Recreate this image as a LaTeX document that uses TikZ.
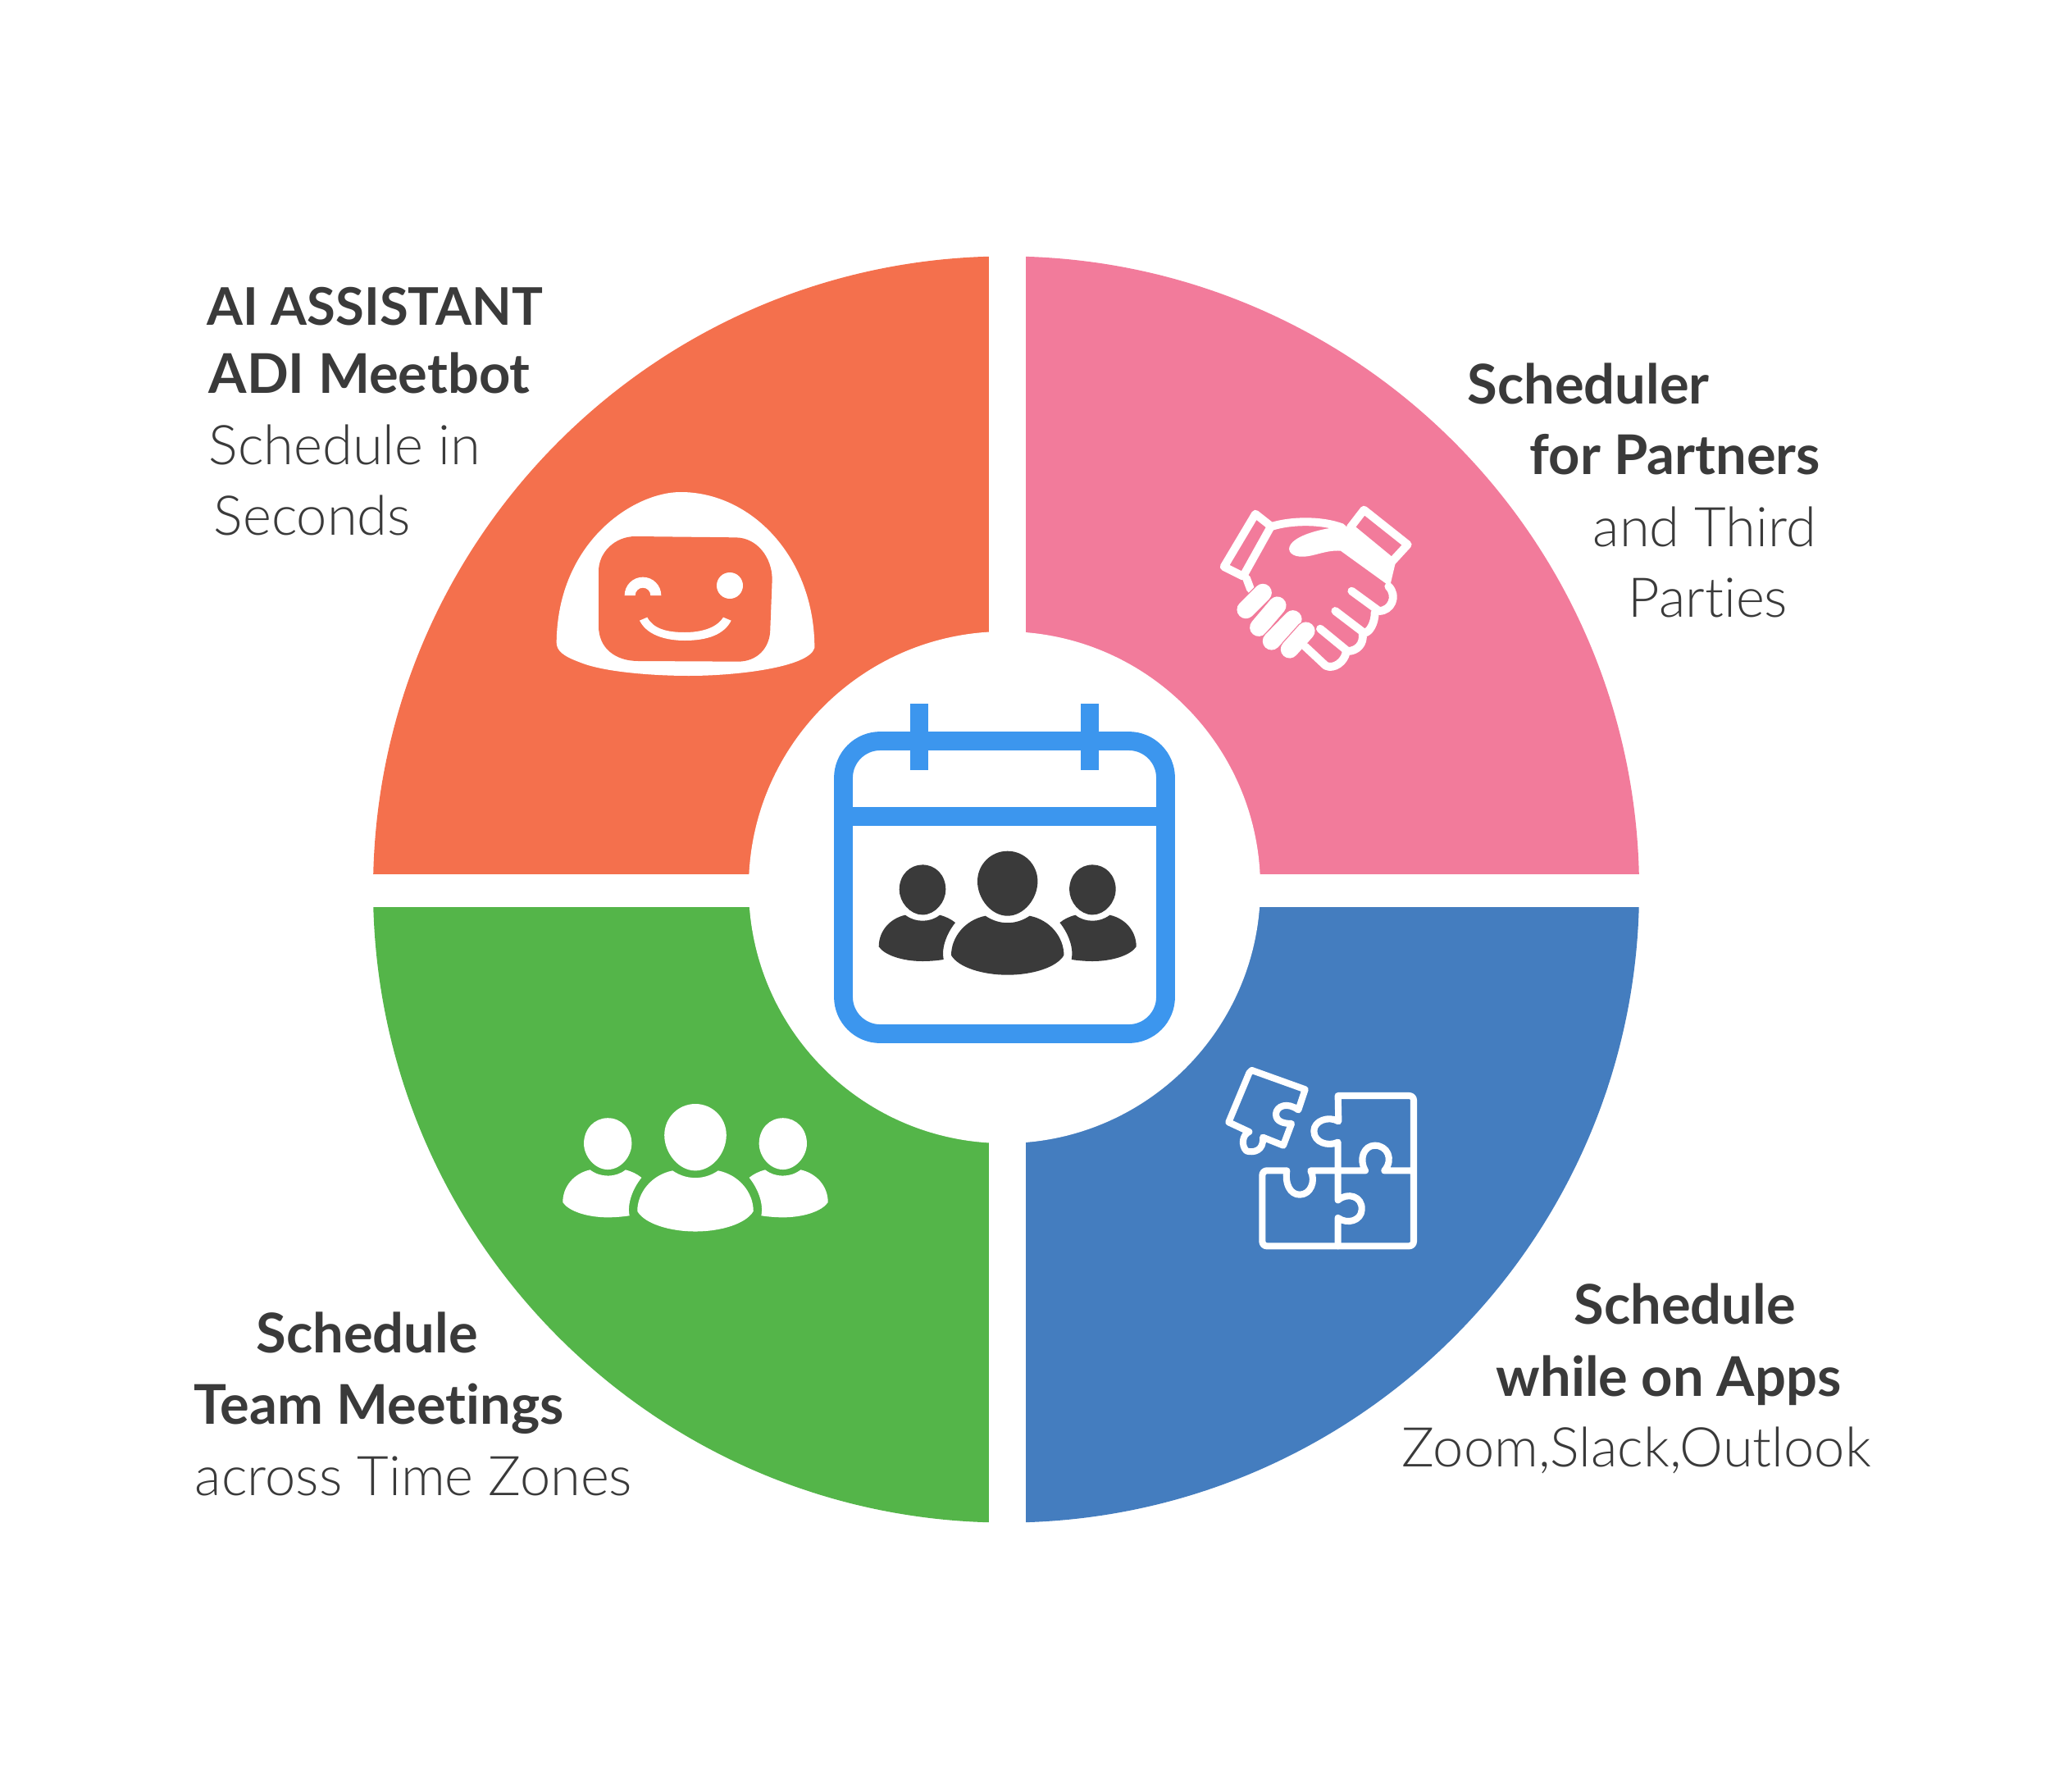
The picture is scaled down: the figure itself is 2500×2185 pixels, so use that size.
\documentclass[tikz,border=0pt]{standalone}
\usepackage{fontspec}
\setmainfont{Lato}[Ligatures=NoCommon]
\newfontfamily\lightfont{Lato Light}[Ligatures=NoCommon]
\usepackage{xcolor}
\definecolor{segorange}{HTML}{F4704D}
\definecolor{segpink}{HTML}{F27B9B}
\definecolor{segblue}{HTML}{447DBF}
\definecolor{seggreen}{HTML}{54B549}
\definecolor{calblue}{HTML}{3C96EE}
\definecolor{inkdark}{HTML}{3A3A3A}
\tikzset{%
    headtext/.style={anchor=base west,inner sep=0pt,text=inkdark,font=\fontsize{19}{22}\selectfont\bfseries},
    subtext/.style={anchor=base west,inner sep=0pt,text=inkdark,font=\fontsize{19}{22}\selectfont\lightfont},
    calline/.style={calblue,line width=6.5pt},
    iconline/.style={white,line width=2.3pt,line join=round,line cap=round},
    handline/.style={white,line width=2.8pt,line join=round,line cap=round},
    people/.pic={
        \fill[pic actions] (0,0) .. controls (-20,0) and (-36.7,16) .. (-36.7,37) .. controls (-36.7,58) and (-20,79) .. (0,79)
            .. controls (20,79) and (36.7,58) .. (36.7,37) .. controls (36.7,16) and (20,0) .. (0,0) -- cycle;
        \fill[pic actions] (-27,79) .. controls (-18,85) and (-9,87.5) .. (0,87.5) .. controls (9,87.5) and (18,85) .. (27,79)
            .. controls (52,84) and (68.7,105) .. (68.7,127) .. controls (60,142) and (30,151) .. (0,151)
            .. controls (-30,151) and (-60,142) .. (-68.7,127) .. controls (-68.7,105) and (-52,84) .. (-27,79) -- cycle;
        \foreach \side in {1,-1} {
            \begin{scope}[xscale=\side]
                \fill[pic actions] (-103.7,16.7) .. controls (-119,16.7) and (-132,29) .. (-132,47) .. controls (-132,62) and (-119,77.7) .. (-103.7,77.7)
                    .. controls (-88,77.7) and (-75.4,62) .. (-75.4,47) .. controls (-75.4,29) and (-88,16.7) .. (-103.7,16.7) -- cycle;
                \fill[pic actions] (-124.7,78) .. controls (-118,83) and (-111,85) .. (-103.7,85) .. controls (-96,85) and (-89,83) .. (-82.7,78)
                    .. controls (-75,80) and (-69,83) .. (-63.7,87.3) .. controls (-74,100) and (-81,118) .. (-78,132.3)
                    .. controls (-86,133.5) and (-95,134.3) .. (-103.7,134.3) .. controls (-128,134.3) and (-150,127) .. (-157,116.5)
                    .. controls (-157,97) and (-143,82) .. (-124.7,78) -- cycle;
            \end{scope}
        }
    }
}

\begin{document}
\begin{tikzpicture}[x=0.01cm,y=-0.01cm]
    \useasboundingbox (0,0) rectangle (2500,2185);
    \coordinate (hub) at (1227,1084.5);

    % quarters, then the white cross and hub on top
    \foreach \col/\ang in {segorange/180,segpink/270,segblue/0,seggreen/90} {
        \fill[\col] (hub) -- ++(\ang:772) arc[start angle=\ang,delta angle=90,radius=772] -- cycle;
    }
    \fill[white] (1206,300) rectangle (1251,1875);
    \fill[white] (440,1066) rectangle (2020,1106);
    \fill[white] (1225,1082) circle (312);

    % calendar
    \draw[calline] (1028.5,948.5) arc[start angle=180,delta angle=90,radius=45] -- (1376.5,903.5) arc[start angle=270,delta angle=90,radius=45]
        -- (1421.5,1215.5) arc[start angle=0,delta angle=90,radius=45] -- (1073.5,1260.5) arc[start angle=90,delta angle=90,radius=45] -- cycle;
    \draw[calline] (1028.5,995.7) -- (1421.5,995.7);
    \foreach \xpos in {1121,1329} {
        \draw[calline] (\xpos,858) -- (\xpos,938.7);
    }
    \pic[fill=inkdark] at (1228.7,1037.7) {people};

    % team icon
    \pic[fill=white,scale=1.03] at (848,1346) {people};

    % robot
    \begin{scope}[shift={(650,570)},scale=1/3]
        \fill[white] (540,90) .. controls (370,90) and (90,270) .. (86,640) .. controls (86,670) and (110,690) .. (170,712)
            .. controls (260,750) and (450,762) .. (570,762) .. controls (750,762) and (1010,730) .. (1030,660)
            .. controls (1030,330) and (800,90) .. (540,90) -- cycle;
        \fill[segorange] (375,252) -- (740,256) .. controls (820,256) and (875,330) .. (875,410) -- (868,590)
            .. controls (868,660) and (820,710) .. (750,710) -- (385,708) .. controls (300,708) and (240,660) .. (240,580)
            -- (240,380) .. controls (240,310) and (300,252) .. (375,252) -- cycle;
        \fill[white] (335,468) arc[start angle=180,end angle=360,radius=67] -- (430,468) arc[start angle=360,end angle=180,radius=28] -- cycle;
        \fill[white] (720,432) circle (48);
        \fill[white] (390,560) .. controls (420,620) and (500,633) .. (555,633) .. controls (640,633) and (700,610) .. (725,560)
            -- (696,548) .. controls (670,590) and (610,603) .. (555,603) .. controls (490,603) and (440,590) .. (418,548) -- cycle;
    \end{scope}

    % handshake
    \begin{scope}[shift={(1460,590)},scale=1/3]
        \draw[handline] (213,110) -- (270,155) -- (168,338) -- (98,303) -- cycle;
        \draw[handline] (610,95) -- (770,222) -- (712,285) -- (560,160) -- cycle;
        \draw[handline] (275,155) .. controls (340,135) and (450,130) .. (530,160);
        \fill[white] (545,155) -- (725,290) -- (705,375) -- (525,245) .. controls (470,240) and (420,270) .. (375,266)
            .. controls (335,262) and (325,235) .. (350,212) .. controls (385,180) and (470,160) .. (545,155) -- cycle;
        \draw[handline] (180,345) -- (195,385);
        \foreach \xa/\ya/\xb/\yb in {178/460/240/398,225/525/293/445,272/575/350/495,338/605/398/538} {
            \draw[segpink,line width=6.9pt,line cap=round] (\xa,\ya) -- (\xb,\yb);
            \draw[white,line width=6.2pt,line cap=round] (\xa,\ya) -- (\xb,\yb);
        }
        \draw[handline] (700,375) .. controls (735,410) and (710,465) .. (665,465) -- (565,392);
        \draw[handline] (650,470) .. controls (650,510) and (630,545) .. (610,545) -- (505,465);
        \draw[handline] (605,550) .. controls (610,585) and (585,612) .. (550,612) -- (450,530);
        \draw[handline] (545,615) .. controls (540,650) and (500,680) .. (470,665) -- (395,595);
    \end{scope}

    % puzzle
    \begin{scope}[shift={(1470,1280)},scale=1/3]
        \draw[iconline] (485,430) -- (485,338) .. controls (450,355) and (397,340) .. (397,297) .. controls (397,260) and (450,240) .. (487,262)
            -- (485,168) -- (745,168) .. controls (755,168) and (762,175) .. (762,185) -- (762,700) .. controls (762,710) and (755,718) .. (745,718)
            -- (225,718) .. controls (215,718) and (208,710) .. (208,700) -- (208,460) .. controls (208,450) and (215,442) .. (225,442) -- (298,442)
            .. controls (290,490) and (310,530) .. (345,530) .. controls (385,530) and (405,480) .. (385,442) -- (585,442)
            .. controls (560,400) and (580,350) .. (620,350) .. controls (665,350) and (690,400) .. (655,442) -- (762,442);
        \draw[iconline] (485,442) -- (485,550) .. controls (520,520) and (575,535) .. (572,585) .. controls (570,625) and (520,640) .. (485,615) -- (485,718);
        \draw[iconline] (170,75) -- (365,145) -- (340,220) .. controls (300,190) and (260,205) .. (258,235)
            .. controls (258,265) and (290,270) .. (315,270) -- (285,350) -- (210,320)
            .. controls (215,370) and (175,378) .. (150,370) .. controls (130,350) and (135,310) .. (160,300) -- (85,265) -- (160,85) -- cycle;
    \end{scope}

    % labels
    \node[headtext,font=\fontsize{18}{22}\selectfont\bfseries] (aititle) at (252,396) {AI ASSISTANT};
    \node[headtext] (ainame) at (254,479) {ADI Meetbot};
    \node[subtext] (aisuba) at (254,566) {Schedule in};
    \node[subtext] (aisubb) at (260,652) {Seconds};

    \node[headtext] (partnera) at (1789,492) {Scheduler};
    \node[headtext] (partnerb) at (1865,578) {for Partners};
    \node[subtext] (partnerc) at (1942,666) {and Third};
    \node[subtext] (partnerd) at (1985,752) {Parties};

    \node[headtext] (appsa) at (1919,1614) {Schedule};
    \node[headtext] (appsb) at (1824,1702) {while on Apps};
    \node[subtext] (appsc) at (1709,1788) {Zoom,Slack,Outlook};

    \node[headtext] (teama) at (312,1649) {Schedule};
    \node[headtext] (teamb) at (236,1736) {Team Meetings};
    \node[subtext] (teamc) at (237,1823) {across Time Zones};
\end{tikzpicture}
\end{document}
